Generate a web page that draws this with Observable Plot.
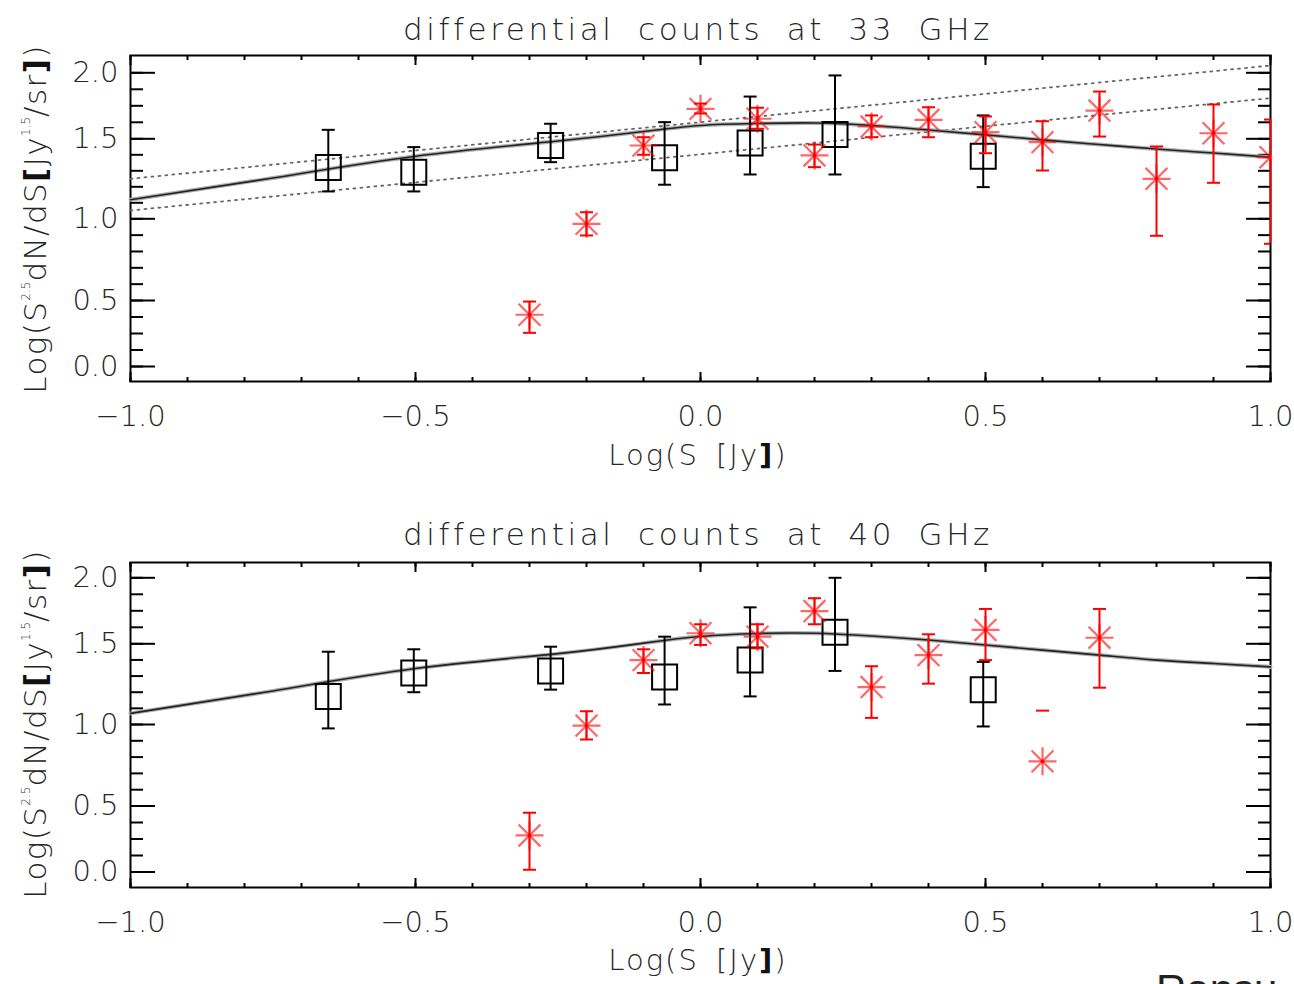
<!DOCTYPE html>
<html>
<head>
<meta charset="utf-8">
<script src="https://cdn.jsdelivr.net/npm/d3@7"></script>
<script src="https://cdn.jsdelivr.net/npm/@observablehq/plot@0.6"></script>
<style>
  html, body { margin: 0; padding: 0; background: #fff; }
  body { width: 1294px; height: 984px; overflow: hidden; position: relative; font-family: "DejaVu Sans", sans-serif; font-weight: 300; color: #262626; }
  .panel { position: absolute; left: 0; }
  .title { position: absolute; left: 698px; transform: translateX(-50%); font-size: 31px; line-height: 31px; letter-spacing: 3.6px; word-spacing: 10px; white-space: nowrap; }
  .xlab { position: absolute; left: 698px; transform: translateX(-50%); font-size: 29px; line-height: 29px; letter-spacing: 2px; word-spacing: 6px; white-space: nowrap; }
  .ylab { position: absolute; left: 35px; transform: translate(-50%, -50%) rotate(-90deg); font-size: 31px; line-height: 31px; letter-spacing: 1.4px; white-space: nowrap; }
  .ylab sup { font-size: 12px; vertical-align: 16px; line-height: 0; letter-spacing: 0; }
  b { font-weight: bold; color: #111; }
  .cut { position: absolute; left: 1156px; top: 969px; font-family: "Liberation Sans", sans-serif; font-weight: normal; font-size: 42px; line-height: 42px; color: #222; white-space: nowrap; }
</style>
</head>
<body>
<div id="p33" class="panel" style="top:0px"></div>
<div id="p40" class="panel" style="top:505px"></div>

<div class="title" style="top:14px">differential counts at 33 GHz</div>
<div class="title" style="top:519px">differential counts at 40 GHz</div>
<div class="xlab" style="top:441px">Log(S [Jy<b>]</b>)</div>
<div class="xlab" style="top:946px">Log(S [Jy<b>]</b>)</div>
<div class="ylab" style="top:219px">Log(S<sup>2.5</sup>dN/dS<b>[</b>Jy<sup>1.5</sup>/sr<b>]</b>)</div>
<div class="ylab" style="top:724px">Log(S<sup>2.5</sup>dN/dS<b>[</b>Jy<sup>1.5</sup>/sr<b>]</b>)</div>
<div class="cut">Ransu</div>

<script>
// ---------- axis ticks ----------
const xDomain = [-1, 1];
const xMajor = [-1, -0.5, 0, 0.5, 1];
const xMinor = [-1, -0.9, -0.8, -0.7, -0.6, -0.5, -0.4, -0.3, -0.2, -0.1, 0, 0.1, 0.2, 0.3, 0.4, 0.5, 0.6, 0.7, 0.8, 0.9, 1];
const yMajor = [0, 0.5, 1, 1.5, 2];
const yMinor = [0, 0.125, 0.25, 0.375, 0.5, 0.6, 0.7, 0.8, 0.9, 1, 1.1, 1.2, 1.3, 1.4, 1.5, 1.625, 1.75, 1.875, 2];

// ---------- 33 GHz ----------
const sq33X  = [-0.653, -0.503, -0.263, -0.063, 0.087, 0.236, 0.496];
const sq33Y  = [1.320, 1.291, 1.458, 1.381, 1.473, 1.533, 1.391];
const sq33Lo = [1.171, 1.171, 1.354, 1.213, 1.277, 1.277, 1.198];
const sq33Hi = [1.568, 1.448, 1.614, 1.626, 1.820, 1.980, 1.677];

const st33X  = [-0.3, -0.2, -0.1, 0.0, 0.1, 0.2, 0.3, 0.4, 0.5, 0.6, 0.7, 0.8, 0.9, 1.0];
const st33Y  = [0.392, 0.969, 1.458, 1.727, 1.652, 1.396, 1.593, 1.644, 1.550, 1.479, 1.714, 1.250, 1.542, 1.385];
const st33Lo = [0.255, 0.898, 1.400, 1.692, 1.576, 1.323, 1.512, 1.512, 1.410, 1.302, 1.517, 0.896, 1.225, 0.847];
const st33Hi = [0.492, 1.041, 1.512, 1.767, 1.735, 1.464, 1.677, 1.739, 1.669, 1.633, 1.858, 1.452, 1.760, 1.646];

const modelX   = [-1, -0.75, -0.5, -0.25, -0.1, 0, 0.1, 0.2, 0.3, 0.4, 0.5, 0.6, 0.7, 0.8, 0.9, 1.0];
const model33  = [1.119, 1.255, 1.391, 1.486, 1.555, 1.601, 1.616, 1.620, 1.601, 1.567, 1.530, 1.493, 1.464, 1.436, 1.411, 1.385];
const dotX     = [-1, 1];
const dotUp33  = [1.250, 2.055];
const dotLow33 = [1.052, 1.808];

// ---------- 40 GHz ----------
const sq40X  = [-0.653, -0.503, -0.263, -0.063, 0.087, 0.236, 0.496];
const sq40Y  = [1.174, 1.319, 1.332, 1.294, 1.399, 1.587, 1.216];
const sq40Lo = [0.976, 1.200, 1.216, 1.124, 1.174, 1.332, 0.988];
const sq40Hi = [1.451, 1.466, 1.482, 1.554, 1.776, 2.000, 1.388];

const st40X  = [-0.3, -0.2, -0.1, 0.0, 0.1, 0.2, 0.3, 0.4, 0.5, 0.6, 0.7];
const st40Y  = [0.277, 0.993, 1.399, 1.580, 1.554, 1.748, 1.232, 1.430, 1.605, 0.774, 1.546];
const st40Lo = [0.017, 0.908, 1.319, 1.493, 1.472, 1.648, 1.041, 1.253, 1.399, null, 1.228];
const st40Hi = [0.449, 1.082, 1.466, 1.648, 1.648, 1.845, 1.361, 1.572, 1.764, 1.086, 1.764];

const model40 = [1.069, 1.208, 1.347, 1.439, 1.505, 1.555, 1.578, 1.580, 1.559, 1.529, 1.493, 1.461, 1.430, 1.399, 1.378, 1.357];

// ---------- helpers ----------
const rows = (xs, ys, los, his) => xs.map((x, i) => ({x, y: ys[i], lo: los ? los[i] : null, hi: his ? his[i] : null}));
const pts = (xs, ys) => xs.map((x, i) => ({x, y: ys[i]}));

const rad = (size) => Math.sqrt(size / Math.PI);
const squareSym = {draw(ctx, size) { const r = rad(size); ctx.moveTo(-r, -r); ctx.lineTo(r, -r); ctx.lineTo(r, r); ctx.lineTo(-r, r); ctx.closePath(); }};
const starSym = {draw(ctx, size) {
  const r = rad(size), d = r * 0.78;
  ctx.moveTo(0, -r); ctx.lineTo(0, r);
  ctx.moveTo(-r, 0); ctx.lineTo(r, 0);
  ctx.moveTo(-d, -d); ctx.lineTo(d, d);
  ctx.moveTo(-d, d); ctx.lineTo(d, -d);
}};
const capSym = {draw(ctx, size) { const r = rad(size); ctx.moveTo(-r, 0); ctx.lineTo(r, 0); }};

const W = 1294, H = 490, ML = 130, MR = 24;
const fmt = d3.format(".1f");
const RED = "#ff0000";
const TXT = "#262626";

function panel(el, cfg) {
  const frameTop = cfg.marginTop, frameBottom = H - cfg.marginBottom;
  const fh = frameBottom - frameTop, fw = W - ML - MR;
  const sq = rows(cfg.sqX, cfg.sqY, cfg.sqLo, cfg.sqHi);
  const st = rows(cfg.stX, cfg.stY, cfg.stLo, cfg.stHi);
  const tk = {fill: "none", tickFormat: () => "", label: null, stroke: "#000", strokeWidth: 2};
  const marks = [
    Plot.frame({stroke: "#000", strokeWidth: 2}),
    // inward ticks: bottom / top
    Plot.axisX({...tk, ticks: xMinor, anchor: "top", tickSize: 5, dy: fh}),
    Plot.axisX({...tk, ticks: xMajor, anchor: "top", tickSize: 10, dy: fh}),
    Plot.axisX({...tk, ticks: xMinor, anchor: "bottom", tickSize: 5, dy: -fh}),
    Plot.axisX({...tk, ticks: xMajor, anchor: "bottom", tickSize: 10, dy: -fh}),
    // inward ticks: left / right
    Plot.axisY({...tk, ticks: yMinor, anchor: "right", tickSize: 12, dx: -fw}),
    Plot.axisY({...tk, ticks: yMajor, anchor: "right", tickSize: 24, dx: -fw}),
    Plot.axisY({...tk, ticks: yMinor, anchor: "left", tickSize: 12, dx: fw}),
    Plot.axisY({...tk, ticks: yMajor, anchor: "left", tickSize: 24, dx: fw}),
    // tick labels
    Plot.axisX({ticks: xMajor, anchor: "bottom", tickSize: 0, tickPadding: 24, tickFormat: fmt, label: null, fill: TXT, fontSize: 29}),
    Plot.axisY({ticks: yMajor, anchor: "left", tickSize: 0, tickPadding: 12, tickFormat: fmt, label: null, fill: TXT, fontSize: 29}),
  ];
  if (cfg.dotUp) {
    marks.push(Plot.line(pts(dotX, cfg.dotUp), {x: "x", y: "y", stroke: "#666", strokeWidth: 1.8, strokeDasharray: "2,5"}));
    marks.push(Plot.line(pts(dotX, cfg.dotLow), {x: "x", y: "y", stroke: "#666", strokeWidth: 1.8, strokeDasharray: "2,5"}));
  }
  marks.push(
    Plot.line(pts(modelX, cfg.model), {x: "x", y: "y", stroke: "#b0b0b0", strokeWidth: 4, curve: "natural"}),
    Plot.line(pts(modelX, cfg.model), {x: "x", y: "y", stroke: "#222", strokeWidth: 1.6, curve: "natural"}),
    // black squares with error bars
    Plot.ruleX(sq, {x: "x", y1: "lo", y2: "hi", stroke: "#000", strokeWidth: 2}),
    Plot.dot(sq, {x: "x", y: "lo", symbol: capSym, r: 6.5, stroke: "#000", strokeWidth: 2, fill: "none"}),
    Plot.dot(sq, {x: "x", y: "hi", symbol: capSym, r: 6.5, stroke: "#000", strokeWidth: 2, fill: "none"}),
    Plot.dot(sq, {x: "x", y: "y", symbol: squareSym, r: 12.5, stroke: "#000", strokeWidth: 2, fill: "none"}),
    // red asterisks with error bars
    Plot.ruleX(st, {filter: d => d.lo != null && d.hi != null, x: "x", y1: "lo", y2: "hi", stroke: RED, strokeWidth: 2}),
    Plot.dot(st, {filter: d => d.lo != null, x: "x", y: "lo", symbol: capSym, r: 6.5, stroke: RED, strokeWidth: 2, fill: "none", clip: true}),
    Plot.dot(st, {filter: d => d.hi != null, x: "x", y: "hi", symbol: capSym, r: 6.5, stroke: RED, strokeWidth: 2, fill: "none", clip: true}),
    Plot.dot(st, {x: "x", y: "y", symbol: starSym, r: 14, stroke: RED, strokeWidth: 2.2, strokeOpacity: 0.6, fill: "none", clip: true}),
    Plot.dot(st, {x: "x", y: "y", r: 2, fill: RED, stroke: "none", clip: true})
  );
  const svg = Plot.plot({
    width: W, height: H,
    marginLeft: ML, marginRight: MR, marginTop: cfg.marginTop, marginBottom: cfg.marginBottom,
    style: {background: "#fff", color: TXT, fontFamily: "'DejaVu Sans', sans-serif", fontWeight: 300, fontSize: "29px", overflow: "visible"},
    x: {type: "linear", domain: xDomain, label: null},
    y: {type: "linear", domain: yMajor, range: cfg.yRange, label: null},
    marks
  });
  el.appendChild(svg);
}

panel(document.getElementById("p33"), {
  marginTop: 55, marginBottom: 109,
  yRange: [366, 300, 218.3, 138.3, 72.3],
  sqX: sq33X, sqY: sq33Y, sqLo: sq33Lo, sqHi: sq33Hi,
  stX: st33X, stY: st33Y, stLo: st33Lo, stHi: st33Hi,
  model: model33, dotUp: dotUp33, dotLow: dotLow33
});
panel(document.getElementById("p40"), {
  marginTop: 57, marginBottom: 108,
  yRange: [366.5, 300.5, 219, 138.3, 72.3],
  sqX: sq40X, sqY: sq40Y, sqLo: sq40Lo, sqHi: sq40Hi,
  stX: st40X, stY: st40Y, stLo: st40Lo, stHi: st40Hi,
  model: model40
});
</script>
</body>
</html>
